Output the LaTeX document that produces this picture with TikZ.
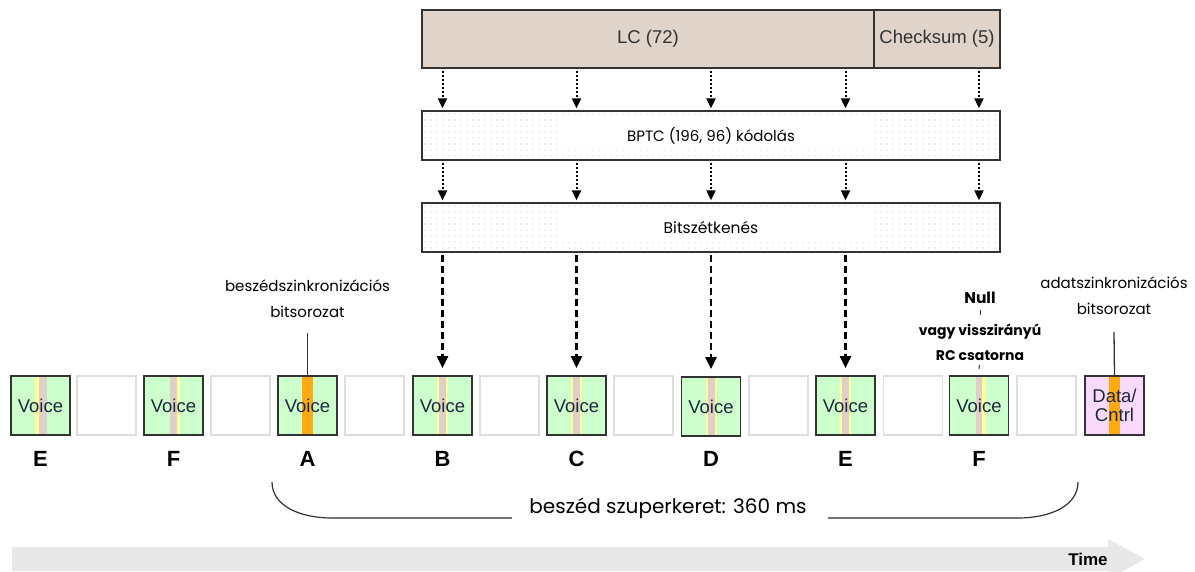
\documentclass[tikz,border=0pt]{standalone}
\usepackage{fontspec}
\setmainfont{Liberation Sans}
\newfontfamily\comicfont{Poppins}
\usetikzlibrary{arrows.meta,calc}
\definecolor{lcfill}{RGB}{224,212,202}
\definecolor{voicefill}{RGB}{204,255,204}
\definecolor{datafill}{RGB}{250,218,250}
\definecolor{syncorange}{RGB}{255,170,17}
\definecolor{stripey}{RGB}{255,255,153}
\definecolor{stripep}{RGB}{222,208,200}
\definecolor{framec}{RGB}{51,51,51}
\definecolor{emptyc}{RGB}{222,222,222}
\definecolor{timec}{RGB}{232,232,232}
\definecolor{dotc}{RGB}{185,185,185}
\definecolor{voicetext}{RGB}{30,40,60}
\definecolor{lctext}{RGB}{50,50,50}
\begin{document}
\begin{tikzpicture}[x=1pt,y=-1pt,
  lcbox/.style={draw=framec, line width=1.3pt, fill=lcfill, minimum height=58pt, inner sep=0pt, text=lctext, font=\fontsize{18.5}{20}\selectfont},
  codebox/.style={draw=framec, line width=1.3pt, minimum width=578pt, minimum height=49pt, inner sep=0pt, font=\comicfont\fontsize{15}{17}\selectfont},
  slotbox/.style={draw=framec, line width=1.8pt, minimum width=59pt, minimum height=59pt, inner sep=0pt, text=voicetext, font=\fontsize{18.5}{20}\selectfont},
  voicebox/.style={slotbox, fill=voicefill},
  emptybox/.style={draw=emptyc, line width=1.8pt, fill=white, minimum width=59pt, minimum height=59pt, inner sep=0pt},
  databox/.style={slotbox, fill=datafill, align=center},
  stripeboth/.style={path picture={
     \fill[stripey] ($(path picture bounding box.north)+(-5.5,0)$) rectangle ($(path picture bounding box.south)+(5.5,0)$);
     \fill[stripep] ($(path picture bounding box.north)+(-3.5,0)$) rectangle ($(path picture bounding box.south)+(3.5,0)$);}},
  stripeleft/.style={path picture={
     \fill[stripey] ($(path picture bounding box.north)+(-5.5,0)$) rectangle ($(path picture bounding box.south)+(-1.5,0)$);
     \fill[stripep] ($(path picture bounding box.north)+(-1.5,0)$) rectangle ($(path picture bounding box.south)+(6,0)$);}},
  striperight/.style={path picture={
     \fill[stripep] ($(path picture bounding box.north)+(-3.5,0)$) rectangle ($(path picture bounding box.south)+(3,0)$);
     \fill[stripey] ($(path picture bounding box.north)+(3,0)$) rectangle ($(path picture bounding box.south)+(6.5,0)$);}},
  stripesync/.style={path picture={
     \fill[syncorange] ($(path picture bounding box.north)+(-5.5,0)$) rectangle ($(path picture bounding box.south)+(5.5,0)$);}},
  slotlabel/.style={font=\bfseries\fontsize{22}{24}\selectfont, inner sep=0pt},
  note/.style={font=\comicfont\fontsize{15}{26}\selectfont, align=center, inner sep=0pt},
  boldnote/.style={font=\comicfont\bfseries\fontsize{14}{25}\selectfont, align=center, inner sep=0pt},
  annot/.style={draw=framec, line width=1.3pt},
  dotarrow/.style={line width=2pt, dash pattern=on 2pt off 2pt, -{Triangle[width=9pt,length=10pt]}, shorten >=2pt, shorten <=2pt},
  dasharrow/.style={line width=2.2pt, dash pattern=on 7pt off 4pt, -{Triangle[width=11pt,length=12pt]}, shorten >=7pt, shorten <=2pt},
  bracearc/.style={draw=framec, line width=1.2pt},
  braceline/.style={draw=black!55, line width=2.4pt},
]
\useasboundingbox (0,0) rectangle (1195,572);

% top boxes
\node[lcbox, minimum width=452pt] (lc) at (648,39) {LC (72)};
\node[lcbox, minimum width=126pt] (cs) at (937,39) {Checksum (5)};

% dotted backgrounds
\begin{scope}
  \clip (422,111) rectangle (1000,160);
  \foreach \yy in {114,120,...,160}
    \foreach \xx in {425,431,...,1000}
      \fill[dotc] (\xx,\yy) circle (0.7);
\end{scope}
\fill[white] (559,119) rectangle (873,150);
\begin{scope}
  \clip (422,203) rectangle (1000,252);
  \foreach \yy in {206,212,...,252}
    \foreach \xx in {425,431,...,1000}
      \fill[dotc] (\xx,\yy) circle (0.7);
\end{scope}
\fill[white] (559,211) rectangle (873,242);

\node[codebox] (bptc) at (711,135.5) {BPTC (196, 96) kódolás};
\node[codebox, font=\comicfont\fontsize{15.5}{17}\selectfont] (bits) at (711,227.5) {Bitszétkenés};

% slot row
\node[voicebox, stripeleft] (vE1) at (40.5,405.5) {Voice};
\node[emptybox] (e1) at (106.5,405.5) {};
\node[voicebox, striperight] (vF1) at (173.5,405.5) {Voice};
\node[emptybox] (e2) at (240.5,405.5) {};
\node[voicebox, stripesync] (vA) at (307.5,405.5) {Voice};
\node[emptybox] (e3) at (374.5,405.5) {};
\node[voicebox, stripeboth] (vB) at (442.5,405.5) {Voice};
\node[emptybox] (e4) at (509.5,405.5) {};
\node[voicebox, stripeboth] (vC) at (576.5,405.5) {Voice};
\node[emptybox] (e5) at (643.5,405.5) {};
\node[voicebox, stripeboth] (vD) at (711,406.5) {Voice};
\node[emptybox] (e6) at (778.5,405.5) {};
\node[voicebox, stripeboth] (vE2) at (845.5,405.5) {Voice};
\node[emptybox] (e7) at (913,405.5) {};
\node[voicebox, striperight] (vF2) at (979,405.5) {Voice};
\node[emptybox] (e8) at (1046.5,405.5) {};
\node[databox, stripesync] (data) at (1114.5,405.5) {Data/\\[-1pt]Cntrl};

% slot labels
\node[slotlabel] (lE1) at (40.5,459) {E};
\node[slotlabel] (lF1) at (173.5,459) {F};
\node[slotlabel] (lA) at (307.5,459) {A};
\node[slotlabel] (lB) at (442.5,459) {B};
\node[slotlabel] (lC) at (576.5,459) {C};
\node[slotlabel] (lD) at (711,459) {D};
\node[slotlabel] (lE2) at (845.5,459) {E};
\node[slotlabel] (lF2) at (979,459) {F};

% arrows
\foreach \v/\src in {vB/lc, vC/lc, vD/lc, vE2/lc, vF2/cs} {
  \draw[dotarrow] (\src.south -| \v.north) -- (bptc.north -| \v.north);
  \draw[dotarrow] (bptc.south -| \v.north) -- (bits.north -| \v.north);
}
\foreach \v in {vB, vC, vD, vE2}
  \draw[dasharrow] (bits.south -| \v.north) -- (\v.north);

% annotations
\node[note] (speechsync) at (307.5,299) {beszédszinkronizációs\\bitsorozat};
\coordinate (speechsyncend) at (307.5,333);
\draw[annot] (speechsyncend) -- (vA.north);
\node[note] (datasync) at (1114,296) {adatszinkronizációs\\bitsorozat};
\coordinate (datasyncend) at (1114,332);
\draw[annot] (datasyncend) -- (data.north);
\node[boldnote, font=\comicfont\bfseries\fontsize{15.5}{25}\selectfont] (null) at (980,298) {Null};
\node[boldnote] (rcnote) at (980,342.5) {vagy visszirányú\\RC csatorna};
\draw[annot, line width=1pt, shorten <=12pt, shorten >=27.5pt] (null.center) -- (rcnote.center);
\draw[annot, line width=1pt, shorten <=22.5pt, shorten >=6pt] (rcnote.center) -- (vF2.north);

% superframe brace
\draw[bracearc] (272,482) .. controls (272,506) and (300,518) .. (332,518);
\draw[braceline] (332,518) -- (512,518);
\draw[braceline] (828,518) -- (1018,518);
\draw[bracearc] (1018,518) .. controls (1050,518) and (1078,506) .. (1078,482);
\node[font=\comicfont\fontsize{20}{22}\selectfont, inner sep=0pt] (superframe) at (668,508) {beszéd szuperkeret: 360 ms};

% time arrow
\fill[timec] (12,547) -- (1108,547) -- (1108,539) -- (1145,559) -- (1108,579) -- (1108,571) -- (12,571) -- cycle;
\node[font=\bfseries\fontsize{17}{19}\selectfont, inner sep=0pt] (time) at (1088,559) {Time};
\end{tikzpicture}
\end{document}
